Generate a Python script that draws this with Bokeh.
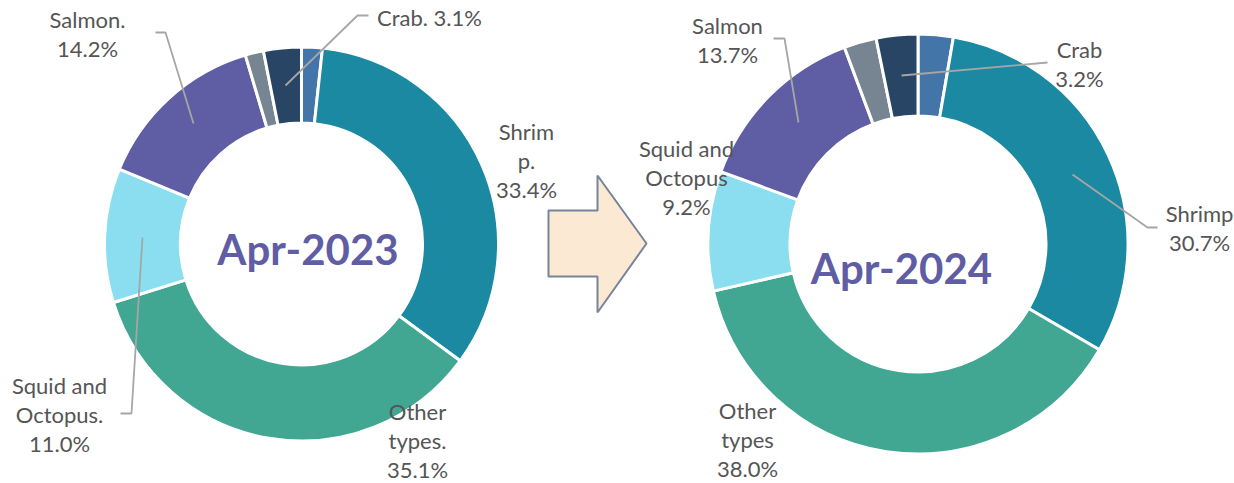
import math
from bokeh.plotting import figure
from bokeh.models import Range1d, ColumnDataSource
from bokeh.core.properties import value
from bokeh.embed import file_html
from bokeh.resources import INLINE

# ---------------- data ----------------
categories = ["Lobster", "Shrimp", "Other types", "Squid and Octopus", "Salmon", "Tuna", "Crab"]
share_2023 = [1.7, 33.4, 35.1, 11.0, 14.2, 1.5, 3.1]
share_2024 = [2.7, 30.7, 38.0, 9.2, 13.7, 2.5, 3.2]
colors = ["#4375A8", "#1A89A1", "#41A692", "#8BDEEF", "#5F5DA3", "#778593", "#284566"]

# label text names (as shown in the chart)
names_2023 = {"Crab": "Crab.", "Salmon": "Salmon.", "Shrimp": "Shrim\np.",
              "Other types": "Other\ntypes.", "Squid and Octopus": "Squid and\nOctopus."}
names_2024 = {"Crab": "Crab", "Salmon": "Salmon", "Shrimp": "Shrimp",
              "Other types": "Other\ntypes", "Squid and Octopus": "Squid and\nOctopus"}
periods = ["Apr-2023", "Apr-2024"]

W, H = 1234, 483
TEXT_COL = "#555555"
LEADER_COL = "#A6A6A6"


def Y(ys):
    return H - ys


p = figure(width=W, height=H, output_backend="svg", toolbar_location=None,
           x_range=Range1d(0, W), y_range=Range1d(0, H),
           min_border=0, outline_line_color=None, background_fill_color="white",
           border_fill_color="white")
p.axis.visible = False
p.grid.visible = False


def donut(cx, cy, r_in, r_out, shares):
    total = sum(shares)
    starts, ends = [], []
    cum = 0.0
    for s in shares:
        a0 = math.pi / 2 - 2 * math.pi * cum / total
        cum += s
        a1 = math.pi / 2 - 2 * math.pi * cum / total
        starts.append(a0)
        ends.append(a1)
    src = ColumnDataSource(dict(x=[cx] * len(shares), y=[Y(cy)] * len(shares),
                                start=starts, end=ends, color=colors))
    p.annular_wedge(x="x", y="y", inner_radius=r_in, outer_radius=r_out,
                    start_angle="start", end_angle="end", direction="clock",
                    fill_color="color", line_color="white", line_width=3,
                    source=src)


donut(301, 243.5, 121, 197, share_2023)
donut(917.5, 243.5, 128, 210, share_2024)

# centre titles
p.text(x=[307.5, 901], y=[Y(248), Y(267)], text=periods,
       text_font=value("Lato"), text_font_style="bold", text_font_size="42px",
       text_color="#5F5DA3", text_align="center", text_baseline="alphabetic")


def label(cx, y0, txt):
    lines = txt.split("\n")
    p.text(x=[cx] * len(lines), y=[Y(y0 + 29 * i) for i in range(len(lines))],
           text=lines, text_font=value("Lato"), text_font_size="22px",
           text_color=TEXT_COL, text_align="center", text_baseline="middle")


def val(shares, cat):
    return shares[categories.index(cat)]


# 2023 labels
label(429, 17, f"{names_2023['Crab']} {val(share_2023, 'Crab'):.1f}%")
label(87, 19, f"{names_2023['Salmon']}\n{val(share_2023, 'Salmon'):.1f}%")
label(526, 131, f"{names_2023['Shrimp']}\n{val(share_2023, 'Shrimp'):.1f}%")
label(417, 411, f"{names_2023['Other types']}\n{val(share_2023, 'Other types'):.1f}%")
label(59, 385, f"{names_2023['Squid and Octopus']}\n{val(share_2023, 'Squid and Octopus'):.1f}%")

# 2024 labels
label(727, 25, f"{names_2024['Salmon']}\n{val(share_2024, 'Salmon'):.1f}%")
label(1079, 49, f"{names_2024['Crab']}\n{val(share_2024, 'Crab'):.1f}%")
label(1199, 213, f"{names_2024['Shrimp']}\n{val(share_2024, 'Shrimp'):.1f}%")
label(686, 148, f"{names_2024['Squid and Octopus']}\n{val(share_2024, 'Squid and Octopus'):.1f}%")
label(747, 410, f"{names_2024['Other types']}\n{val(share_2024, 'Other types'):.1f}%")

# leader lines
leaders = [
    [(155, 32), (165, 32), (193, 123)],
    [(368, 15), (357, 15), (285, 85)],
    [(120, 413), (131, 413), (142, 237)],
    [(773, 38), (784, 38), (798, 122)],
    [(1047, 62), (901, 75)],
    [(1157, 227), (1147, 227), (1072, 174)],
]
p.multi_line(xs=[[pt[0] for pt in l] for l in leaders],
             ys=[[Y(pt[1]) for pt in l] for l in leaders],
             line_color=LEADER_COL, line_width=1.8)

# arrow between the two donuts
ax = [548, 597, 597, 646, 597, 597, 548]
ay = [210, 210, 175, 243, 312, 276, 276]
p.patch(x=ax, y=[Y(v) for v in ay], fill_color="#FCE9D3",
        line_color="#76849A", line_width=2)

open("out.html", "w").write(file_html(p, INLINE))
